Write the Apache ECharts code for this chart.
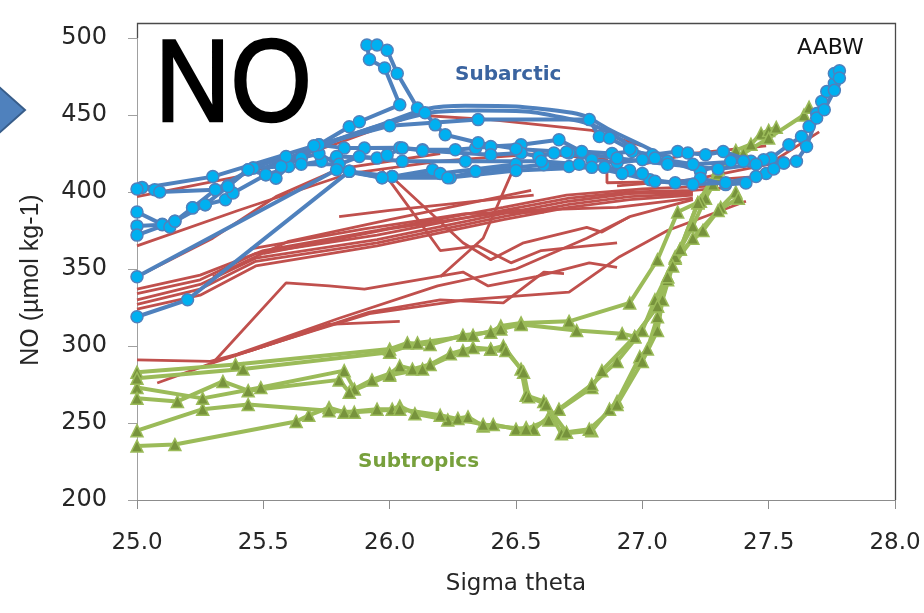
<!DOCTYPE html>
<html><head><meta charset="utf-8">
<script src="https://cdn.jsdelivr.net/npm/echarts@6/dist/echarts.min.js"></script>
<style>html,body{margin:0;padding:0;background:#fff}#c{width:924px;height:613px}</style>
</head><body><div id="c"></div>
<script>
// ---- axes ----
const xMin = 25, xMax = 28, xStep = 0.5;
const yMin = 200, yMax = 500, yStep = 50;
const xTitle = 'Sigma theta';
const yTitle = 'NO (µmol kg-1)';

// ---- Subarctic (blue, circle markers) ----
const subarcticLines = [
  [[25.02,403],[25.07,401.5],[25.09,400],[25.31,401.5],[25.36,404],[25.44,414.5],[25.46,415.6],[25.57,416.6],[25.65,422],[25.72,430.7],[25.82,428.5],[25.9,428.5],[26.04,428.7],[26.13,427.4],[26.26,427.4],[26.34,428.5],[26.4,429.6],[26.52,430.7],[26.67,433.9],[26.76,426.3],[26.88,425],[26.96,426.3],[27.04,424.2],[27.14,426.3],[27.18,425.3],[27.25,424.2],[27.32,426.3],[27.43,420],[27.51,422],[27.58,430.7],[27.63,436],[27.66,442.5],[27.69,451],[27.71,458.7],[27.73,465.2],[27.76,470.6],[27.76,477],[27.78,478.8]],
  [[25.0,387],[25.1,379],[25.15,381],[25.22,389.7],[25.27,391.8],[25.35,395],[25.38,399.4],[25.51,411.2],[25.55,409],[25.6,416.6],[25.73,420],[25.79,423],[25.95,422],[25.99,424],[26.05,428.5],[26.13,427],[26.4,424.2],[26.52,425.3],[26.59,423],[26.65,425.3],[26.71,425.3],[26.8,421],[26.9,419],[27.0,421],[27.1,420],[27.23,413.4],[27.35,420],[27.48,421],[27.56,418.8],[27.61,420],[27.65,429.6],[27.69,448],[27.72,453.4],[27.76,466],[27.78,474]],
  [[25.0,378],[25.1,378.8],[25.13,377.3],[25.22,389.7],[25.31,401.5],[25.46,415.6],[25.59,423],[25.65,422],[25.72,425],[25.84,413.4],[25.97,409.3],[26.01,410],[26.17,414.5],[26.24,409.3],[26.34,413.4],[26.61,417.7],[26.71,416.6],[26.85,416],[26.95,414],[27.03,408],[27.13,406],[27.23,409],[27.33,404.8],[27.41,405.8],[27.49,412],[27.56,418.8]],
  [[25.0,372],[25.15,381],[25.27,391.8],[25.36,403.6],[25.44,414.5],[25.51,411.2],[25.65,418],[25.8,418],[25.88,423],[26.05,420],[26.3,420],[26.6,420],[26.75,418],[26.92,412],[27.05,407],[27.2,405],[27.33,406],[27.45,410],[27.52,415]],
  [[25.57,416.6],[25.72,430.7],[25.84,442.4],[25.88,445.6],[26.04,456.6],[25.98,480.5],[25.92,486],[25.91,495.5],[25.95,495.5],[25.99,492],[26.03,477],[26.11,454.6],[26.14,451.4],[26.18,443.6],[26.22,437.2],[26.35,432],[26.5,428],[26.7,426],[26.9,422],[27.1,418],[27.3,415],[27.45,418]],
  [[25.0,402],[25.3,410],[25.7,430],[26.0,443],[26.35,447],[26.79,447],[26.83,436],[26.87,435],[26.95,428],[27.05,422],[27.2,418],[27.4,420]],
  [[25.0,319],[25.2,330],[25.84,413.4],[26.01,410],[26.2,412],[26.5,418]],
  [[25.0,345],[25.79,414.5],[25.97,409.3],[26.23,409.3],[26.5,414],[26.8,416],[27.0,412]]
];
// smooth arcs without markers
const subarcticArcs = [
  [[25.5,415],[25.9,440],[26.3,456],[26.7,452],[26.9,438],[27.1,422]],
  [[25.6,420],[26.0,445],[26.35,453],[26.75,446],[26.95,430]]
];

// ---- intermediate (red, no markers) ----
const redLines = [
  [[25.0,334],[25.25,343],[25.47,360],[25.95,372],[26.45,388],[26.71,396],[26.95,400],[27.2,401],[27.35,403]],
  [[25.0,330],[25.25,340],[25.47,357],[25.95,369],[26.45,386],[26.71,394],[26.95,399],[27.2,400]],
  [[25.0,327],[25.25,337],[25.47,355],[25.95,367],[26.45,384],[26.71,392],[26.95,397],[27.2,399]],
  [[25.0,324],[25.25,333],[25.47,352],[25.95,365],[26.45,382],[26.71,390],[26.95,395],[27.2,398]],
  [[25.0,337],[25.25,346],[25.5,362],[25.95,375],[26.45,390],[26.7,398],[27.0,402],[27.3,404]],
  [[25.0,397],[25.4,410],[25.8,432],[26.1,450],[26.4,447],[26.8,440],[27.0,430]],
  [[25.0,365],[25.4,388],[25.84,412],[26.2,420],[26.6,425],[26.86,421],[26.86,406],[27.2,407],[27.45,410]],
  [[25.0,345],[25.3,370],[25.55,397],[25.8,415],[26.2,425]],
  [[25.8,384],[26.0,388],[26.57,398]],
  [[25.45,363],[25.9,376],[26.3,386],[26.61,387]],
  [[25.3,345],[25.6,368],[26.0,382],[26.56,401]],
  [[25.5,360],[26.0,376],[26.5,388],[26.9,390],[27.2,396]],
  [[25.97,414],[26.13,378],[26.2,362],[26.35,365],[26.48,354],[26.6,362],[26.9,367]],
  [[26.0,411],[26.29,367],[26.4,356],[26.53,367],[26.78,377],[26.84,374],[26.95,384]],
  [[26.2,345],[26.37,370],[26.49,415]],
  [[25.0,291],[25.29,290],[25.45,297],[25.76,314],[26.04,316]],
  [[25.08,276],[25.3,289],[25.59,341],[25.76,339],[25.9,337],[26.29,348],[26.39,339],[26.58,345],[26.79,354],[26.9,351]],
  [[25.3,289],[25.6,305],[25.92,322],[26.2,330],[26.45,328],[26.61,348],[26.69,347]],
  [[25.35,292],[25.7,310],[25.92,321],[26.3,330],[26.71,335],[26.91,358],[27.1,375],[27.41,394]],
  [[25.4,295],[25.8,318],[26.19,339],[26.5,350],[26.78,370],[26.95,384],[27.2,395]],
  [[26.9,404],[27.2,408],[27.5,418],[27.7,439]],
  [[27.0,418],[27.2,425],[27.49,430]]
];

// ---- Subtropics (green, triangle markers) ----
const subtropicLines = [
  [[25.0,235],[25.15,236],[25.63,251],[25.68,255],[25.76,260],[25.82,257],[25.95,259],[26.01,259],[26.04,261],[26.1,256],[26.23,252],[26.27,253],[26.31,254],[26.37,248],[26.41,249],[26.5,246],[26.54,247],[26.57,246],[26.63,254],[26.8,273],[26.84,284],[26.97,306],[27.06,326],[27.1,345],[27.15,363],[27.22,393],[27.28,405]],
  [[25.0,245],[25.26,259],[25.44,262],[25.76,258],[25.86,257],[26.04,259],[26.2,255],[26.37,249],[26.54,246],[26.63,252],[26.67,259],[26.8,275],[26.9,290],[27.0,310],[27.05,330],[27.13,357],[27.2,378],[27.25,396],[27.3,410]],
  [[25.0,273],[25.26,266],[25.49,273],[25.82,284],[25.86,272],[25.93,278],[26.0,282],[26.04,287],[26.09,285],[26.16,288],[26.24,295],[26.33,299],[26.4,298],[26.45,300],[26.52,285],[26.54,268],[26.61,264],[26.68,243],[26.8,245],[26.87,259],[26.9,264],[26.99,293],[27.02,298],[27.06,319],[27.1,343],[27.13,358],[27.24,375],[27.31,390],[27.37,400]],
  [[25.0,266],[25.16,264],[25.34,277],[25.44,271],[25.8,278],[25.84,270],[26.0,281],[26.13,285],[26.29,297],[26.4,298],[26.46,297],[26.53,283],[26.55,267],[26.62,262],[26.7,244],[26.79,246],[26.9,262],[27.0,290],[27.06,310],[27.08,330],[27.12,352],[27.2,370],[27.3,388],[27.38,396]],
  [[25.0,283],[25.39,288],[26.0,298],[26.07,302],[26.16,301],[26.29,307],[26.4,309],[26.44,313],[26.52,315],[26.71,316],[26.95,328],[27.06,356],[27.14,387],[27.23,394],[27.3,412],[27.37,427],[27.43,431],[27.47,438],[27.5,440],[27.53,442]],
  [[25.0,279],[25.42,285],[26.0,296],[26.11,302],[26.33,307],[26.44,311],[26.52,314],[26.74,310],[26.92,308],[26.97,306],[27.06,326],[27.1,345],[27.15,363],[27.22,393],[27.3,415],[27.4,425],[27.5,435],[27.64,450],[27.66,455]]
];

// ---- annotations ----
const labelSubarctic = 'Subarctic';
const labelSubtropics = 'Subtropics';
const labelAABW = 'AABW';
const labelBig = 'NO';

const series = [];
redLines.forEach(d => series.push({
  type: 'line', data: d, symbol: 'none', z: 2,
  lineStyle: { color: '#C0504D', width: 2.8 }
}));
subtropicLines.forEach(d => series.push({
  type: 'line', data: d, symbol: 'triangle', symbolSize: 12, z: 3,
  lineStyle: { color: '#9BBB59', width: 4 },
  itemStyle: { color: '#77933C', borderColor: '#9BBB59', borderWidth: 1.5 }
}));
subarcticArcs.forEach(d => series.push({
  type: 'line', data: d, symbol: 'none', smooth: 0.5, z: 4,
  lineStyle: { color: '#4F81BD', width: 4 }
}));
subarcticLines.forEach(d => series.push({
  type: 'line', data: d, symbol: 'circle', symbolSize: 12, z: 4,
  lineStyle: { color: '#4F81BD', width: 4 },
  itemStyle: { color: '#00B0F0', borderColor: '#4F81BD', borderWidth: 1.5 }
}));

const chart = echarts.init(document.getElementById('c'), null, { renderer: 'canvas' });
chart.setOption({
  animation: false,
  backgroundColor: '#fff',
  grid: { left: 137, right: 29, top: 38, bottom: 113 },
  xAxis: {
    type: 'value', min: xMin, max: xMax, interval: xStep,
    name: xTitle, nameLocation: 'middle', nameGap: 73,
    nameTextStyle: { fontFamily: 'DejaVu Sans', fontSize: 23, color: '#262626' },
    axisLine: { show: true, lineStyle: { color: '#8C8C8C', width: 1 } },
    axisTick: { show: true, length: 9, lineStyle: { color: '#8C8C8C' } },
    axisLabel: { formatter: v => v.toFixed(1), fontFamily: 'DejaVu Sans', fontSize: 23, color: '#262626', margin: 32 },
    splitLine: { show: false }
  },
  yAxis: {
    type: 'value', min: yMin, max: yMax, interval: yStep,
    axisLine: { show: true, lineStyle: { color: '#A0A0A0', width: 1 } },
    axisTick: { show: true, length: 9, lineStyle: { color: '#A0A0A0' } },
    axisLabel: { fontFamily: 'DejaVu Sans', fontSize: 24, color: '#262626', margin: 30 },
    splitLine: { show: false }
  },
  graphic: {
    elements: [
      { type: 'polyline', z: 100, silent: true,
        shape: { points: [[137.5, 38], [137.5, 23.5], [895.5, 23.5], [895.5, 500]] },
        style: { stroke: '#4A4A4A', lineWidth: 1.3, fill: null } },
      { type: 'polygon', z: 100, shape: { points: [[-20, 70], [25, 110], [-20, 150]] }, style: { fill: '#4F81BD', stroke: '#385D8A', lineWidth: 2 } },
      { type: 'text', x: 141, y: 89, z: 100, scaleX: 0.9, originX: 141,
        style: { text: labelBig, font: '116px "Liberation Sans"', fill: '#000', stroke: '#000', lineWidth: 2.5, lineJoin: 'round', verticalAlign: 'middle', align: 'left' } },
      { type: 'text', x: 31, y: 280, z: 100, rotation: Math.PI / 2,
        style: { text: yTitle, font: '25px "Liberation Sans"', fill: '#262626', verticalAlign: 'middle', align: 'center' } },
      { type: 'text', x: 455, y: 75, z: 100,
        style: { text: labelSubarctic, font: 'bold 20px "DejaVu Sans"', fill: '#3A64A0', verticalAlign: 'middle', align: 'left' } },
      { type: 'text', x: 797, y: 48, z: 100,
        style: { text: labelAABW, font: '22px "DejaVu Sans"', fill: '#111', verticalAlign: 'middle', align: 'left' } },
      { type: 'text', x: 358, y: 462, z: 100,
        style: { text: labelSubtropics, font: 'bold 20px "DejaVu Sans"', fill: '#77A03C', verticalAlign: 'middle', align: 'left' } }
    ]
  },
  series: series
});
</script>
</body></html>
